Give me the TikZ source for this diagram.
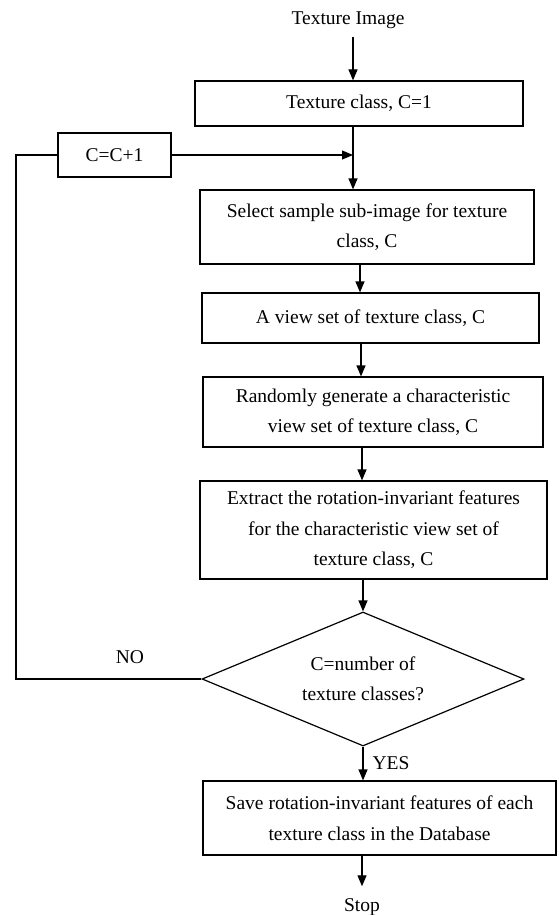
\documentclass[tikz,border=0pt]{standalone}
\usepackage{fontspec}
\setmainfont{Liberation Serif}
\usetikzlibrary{arrows.meta,shapes.geometric}
\begin{document}
\begin{tikzpicture}[x=1pt,y=-1pt,
  every node/.style={font=\fontsize{19.5}{30.5}\selectfont},
  box/.style={draw,line width=1.2pt,rectangle,inner sep=0pt,align=center},
  lbl/.style={inner sep=0pt},
  arr/.style={line width=1.2pt,-{Triangle[length=11pt,width=9pt]}},
  ln/.style={line width=1.2pt}]
\useasboundingbox (0,0) rectangle (558,915);
\coordinate (x1) at (353,0);
\coordinate (x2) at (360,0);
\coordinate (x3) at (361,0);
\coordinate (x4) at (362,0);
\coordinate (lx) at (16,0);

\node[lbl,inner ysep=8pt] (title) at (348,20) {Texture Image};
\node[box,minimum width=328pt,minimum height=45pt] (box1) at (359,103.5) {Texture class, C=1};
\node[box,minimum width=113pt,minimum height=44pt] (cbox) at (114.5,155) {C=C+1};
\node[box,minimum width=334pt,minimum height=74pt] (box2) at (367,227) {Select sample sub-image for texture\\class, C};
\node[box,minimum width=337pt,minimum height=50pt] (box3) at (370.5,318) {A view set of texture class, C};
\node[box,minimum width=340pt,minimum height=70pt] (box4) at (373,412) {Randomly generate a characteristic\\view set of texture class, C};
\node[box,minimum width=347pt,minimum height=98pt] (box5) at (373.5,530) {Extract the rotation-invariant features\\for the characteristic view set of\\texture class, C};
\node[draw,line width=1.2pt,diamond,shape aspect=2.4,inner sep=0pt,minimum width=322pt,minimum height=134pt,align=center] (diam) at (363,679) {C=number of\\texture classes?};
\node[box,minimum width=353pt,minimum height=74pt] (box6) at (379.5,818) {Save rotation-invariant features of each\\texture class in the Database};
\node[lbl,inner ysep=12pt] (stop) at (362,907) {Stop};
\node[lbl] (no) at (130,657) {NO};
\node[lbl] (yes) at (391,763) {YES};

\draw[arr] (title.south -| x1) -- (box1.north -| x1);
\draw[arr] (box1.south -| x1) -- (box2.north -| x1);
\draw[arr] (cbox.east) -- (cbox.east -| x1);
\draw[arr] (box2.south -| x2) -- (box3.north -| x2);
\draw[arr] (box3.south -| x3) -- (box4.north -| x3);
\draw[arr] (box4.south -| x4) -- (box5.north -| x4);
\draw[arr] (box5.south -| diam.north) -- (diam.north);
\draw[arr] (diam.south) -- (box6.north -| diam.south);
\draw[arr] (box6.south -| x4) -- (stop.north);
\draw[ln] (diam.west) -- (diam.west -| lx) |- (cbox.west);
\end{tikzpicture}
\end{document}
